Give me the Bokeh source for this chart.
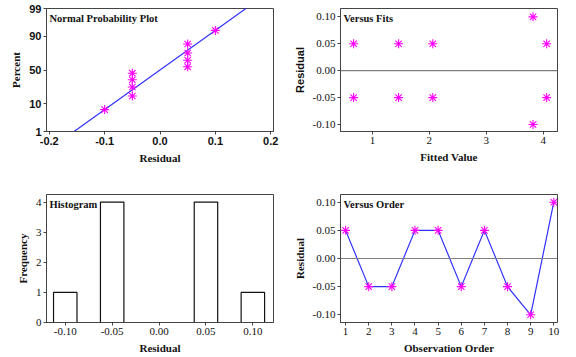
from statistics import NormalDist
from bokeh.plotting import figure
from bokeh.layouts import gridplot
from bokeh.models import (Range1d, FixedTicker, CustomJSTickFormatter, Label, Span,
                          ColumnDataSource)
from bokeh.embed import file_html
from bokeh.resources import INLINE

# ---------------- data ----------------
# Normal probability plot
npp_residual = [-0.10, -0.05, -0.05, -0.05, -0.05, 0.05, 0.05, 0.05, 0.05, 0.10]
npp_percent = [6.7, 16.3, 26.0, 35.6, 45.2, 54.8, 64.4, 74.0, 83.7, 93.3]
npp_tick_percent = [1, 10, 50, 90, 99]
npp_line_mean = 0.0
npp_line_sd = 0.0667
npp_line_x = [-0.25, 0.25]

# Versus fits
fits_x = [0.67, 0.67, 1.46, 1.46, 2.06, 2.06, 3.82, 3.82, 4.06, 4.06]
fits_resid = [0.05, -0.05, 0.05, -0.05, 0.05, -0.05, 0.10, -0.10, 0.05, -0.05]

# Histogram
hist_centers = [-0.10, -0.05, 0.05, 0.10]
hist_counts = [1, 4, 4, 1]
hist_bin_width = 0.025
hist_ticks = [-0.10, -0.05, 0.00, 0.05, 0.10]

# Versus order
order_x = [1, 2, 3, 4, 5, 6, 7, 8, 9, 10]
order_resid = [0.05, -0.05, -0.05, 0.05, 0.05, -0.05, 0.05, -0.05, -0.10, 0.10]

# ---------------- style ----------------
MAGENTA = "#FF00FF"
BLUE = "#3030FF"
FRAME = "#444444"
SERIF = "Liberation Serif"
SANS = "Liberation Sans"


def style(p, xlabel, ylabel, tick_font=SERIF, tick_style="normal", ylabel_font=SERIF):
    p.outline_line_color = FRAME
    p.outline_line_width = 1
    p.grid.visible = False
    p.background_fill_color = "white"
    p.border_fill_color = "white"
    for ax in (p.xaxis[0], p.yaxis[0]):
        ax.axis_line_color = FRAME
        ax.major_tick_line_color = FRAME
        ax.major_tick_out = 3
        ax.major_tick_in = 0
        ax.minor_tick_line_color = None
        ax.major_label_text_font = tick_font
        ax.major_label_text_font_style = tick_style
        ax.major_label_text_font_size = "11px"
        ax.major_label_text_color = "#111111"
        ax.major_label_standoff = 2
        ax.axis_label_text_font_style = "bold"
        ax.axis_label_text_font_size = "11px"
        ax.axis_label_text_color = "#111111"
        ax.axis_label_standoff = 4
    p.xaxis[0].axis_label = xlabel
    p.yaxis[0].axis_label = ylabel
    p.xaxis[0].axis_label_text_font = SERIF
    p.yaxis[0].axis_label_text_font = ylabel_font


def title(p, text, x, y):
    p.add_layout(Label(x=x, y=y, text=text, x_offset=3, y_offset=-4,
                       text_baseline="top", text_align="left",
                       text_font=SERIF, text_font_style="bold",
                       text_font_size="10.5px", text_color="#111111"))


W = 288
H1 = 168
H2 = 188

# ---- Panel 1: normal probability plot ----
nd = NormalDist()
z_lo = nd.inv_cdf(0.01)
z_hi = nd.inv_cdf(0.99)
p1 = figure(width=W, height=H1, output_backend="svg", toolbar_location=None,
            x_range=Range1d(-0.205, 0.205), y_range=Range1d(z_lo, z_hi),
            min_border_left=46, min_border_right=15, min_border_top=8, min_border_bottom=37)
line_z = [(x - npp_line_mean) / npp_line_sd for x in npp_line_x]
p1.line(npp_line_x, line_z, line_color=BLUE, line_width=1.2)
p1.scatter(npp_residual, [nd.inv_cdf(v / 100) for v in npp_percent], marker="asterisk",
           size=9, line_color=MAGENTA, line_width=1.1)
p1.xaxis.ticker = FixedTicker(ticks=[-0.2, -0.1, 0.0, 0.1, 0.2])
p1.xaxis.formatter = CustomJSTickFormatter(code="return tick.toFixed(1);")
p1.yaxis.ticker = FixedTicker(ticks=[nd.inv_cdf(v / 100) for v in npp_tick_percent])
p1.yaxis.formatter = CustomJSTickFormatter(args=dict(labels=[str(v) for v in npp_tick_percent]),
                                           code="return labels[index];")
style(p1, "Residual", "Percent", tick_font=SANS, tick_style="bold")
title(p1, "Normal Probability Plot", -0.205, z_hi)

# ---- Panel 2: versus fits ----
p2 = figure(width=W, height=H1, output_backend="svg", toolbar_location=None,
            x_range=Range1d(0.44, 4.25), y_range=Range1d(-0.113, 0.1155),
            min_border_left=52, min_border_right=19, min_border_top=8, min_border_bottom=36)
p2.add_layout(Span(location=0, dimension="width", line_color="#808080", line_width=1.2))
p2.scatter(fits_x, fits_resid, marker="asterisk", size=9, line_color=MAGENTA, line_width=1.1)
p2.xaxis.ticker = FixedTicker(ticks=[1, 2, 3, 4])
p2.yaxis.ticker = FixedTicker(ticks=[-0.10, -0.05, 0.0, 0.05, 0.10])
p2.yaxis.formatter = CustomJSTickFormatter(code="return tick.toFixed(2);")
style(p2, "Fitted Value", "Residual", ylabel_font=SANS)
title(p2, "Versus Fits", 0.44, 0.1155)

# ---- Panel 3: histogram ----
p3 = figure(width=W, height=H2, output_backend="svg", toolbar_location=None,
            x_range=Range1d(-0.12, 0.122), y_range=Range1d(0, 4.25),
            min_border_left=46, min_border_right=15, min_border_top=26, min_border_bottom=34)
src = ColumnDataSource(dict(x=hist_centers, top=hist_counts))
p3.vbar(x="x", top="top", bottom=0, width=hist_bin_width, source=src,
        fill_color="white", line_color="#111111", line_width=1.2)
p3.xaxis.ticker = FixedTicker(ticks=hist_ticks)
p3.xaxis.formatter = CustomJSTickFormatter(code="return tick.toFixed(2);")
p3.yaxis.ticker = FixedTicker(ticks=[0, 1, 2, 3, 4])
style(p3, "Residual", "Frequency")
title(p3, "Histogram", -0.12, 4.25)

# ---- Panel 4: versus order ----
p4 = figure(width=W, height=H2, output_backend="svg", toolbar_location=None,
            x_range=Range1d(0.78, 10.16), y_range=Range1d(-0.1137, 0.1137),
            min_border_left=52, min_border_right=19, min_border_top=26, min_border_bottom=34)
p4.add_layout(Span(location=0, dimension="width", line_color="#808080", line_width=1.2))
p4.line(order_x, order_resid, line_color=BLUE, line_width=1.2)
p4.scatter(order_x, order_resid, marker="asterisk", size=9, line_color=MAGENTA, line_width=1.1)
p4.xaxis.ticker = FixedTicker(ticks=order_x)
p4.yaxis.ticker = FixedTicker(ticks=[-0.10, -0.05, 0.0, 0.05, 0.10])
p4.yaxis.formatter = CustomJSTickFormatter(code="return tick.toFixed(2);")
style(p4, "Observation Order", "Residual")
title(p4, "Versus Order", 0.78, 0.1137)

grid = gridplot([[p1, p2], [p3, p4]], toolbar_location=None)

open("out.html", "w").write(file_html(grid, INLINE))
